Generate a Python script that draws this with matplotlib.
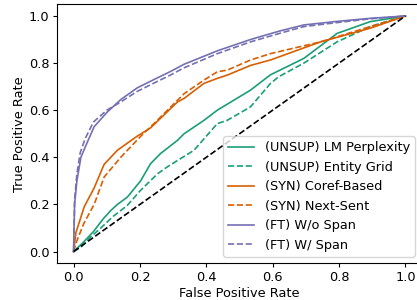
import matplotlib
matplotlib.use("Agg")
import matplotlib.pyplot as plt

# ROC points
lm_fpr = [0, 0.03, 0.06, 0.09, 0.112, 0.132, 0.162, 0.202, 0.232, 0.262, 0.313, 0.333,
          0.393, 0.433, 0.533, 0.593, 0.694, 0.794, 0.894, 1.0]
lm_tpr = [0, 0.04, 0.085, 0.14, 0.174, 0.20, 0.231, 0.30, 0.373, 0.416, 0.472, 0.50,
          0.557, 0.60, 0.685, 0.75, 0.82, 0.926, 0.976, 1.0]

grid_fpr = [0, 0.022, 0.05, 0.082, 0.12, 0.162, 0.202, 0.253, 0.283, 0.363, 0.433, 0.463,
            0.533, 0.593, 0.618, 0.694, 0.794, 0.894, 1.0]
grid_tpr = [0, 0.018, 0.06, 0.10, 0.15, 0.196, 0.26, 0.33, 0.36, 0.43, 0.543, 0.557,
            0.614, 0.713, 0.742, 0.80, 0.89, 0.955, 1.0]

coref_fpr = [0, 0.007, 0.032, 0.062, 0.092, 0.132, 0.192, 0.232, 0.313, 0.333, 0.393,
             0.433, 0.463, 0.533, 0.593, 0.744, 0.894, 1.0]
coref_tpr = [0, 0.08, 0.19, 0.27, 0.37, 0.43, 0.49, 0.525, 0.635, 0.65, 0.714,
             0.735, 0.749, 0.79, 0.813, 0.89, 0.948, 1.0]

next_fpr = [0, 0.007, 0.031, 0.062, 0.092, 0.142, 0.2, 0.242, 0.283, 0.333, 0.393,
            0.433, 0.463, 0.533, 0.593, 0.744, 0.894, 1.0]
next_tpr = [0, 0.035, 0.12, 0.20, 0.316, 0.40, 0.486, 0.543, 0.60, 0.67, 0.728,
            0.763, 0.77, 0.813, 0.84, 0.89, 0.955, 1.0]

wo_fpr = [0, 0.003, 0.01, 0.022, 0.037, 0.062, 0.10, 0.142, 0.192, 0.242, 0.293, 0.333,
          0.433, 0.533, 0.618, 0.694, 0.794, 0.894, 1.0]
wo_tpr = [0, 0.20, 0.30, 0.40, 0.45, 0.53, 0.59, 0.645, 0.695, 0.73, 0.765, 0.795,
          0.852, 0.90, 0.935, 0.962, 0.977, 0.99, 1.0]

w_fpr = [0, 0.003, 0.01, 0.02, 0.035, 0.06, 0.10, 0.142, 0.192, 0.242, 0.293, 0.333,
         0.433, 0.533, 0.618, 0.694, 0.794, 0.894, 1.0]
w_tpr = [0, 0.22, 0.33, 0.42, 0.48, 0.55, 0.60, 0.635, 0.68, 0.715, 0.75, 0.78,
         0.84, 0.89, 0.925, 0.955, 0.972, 0.988, 1.0]

teal, orange, purple = '#1b9e77', '#d95f02', '#7570b3'

plt.rcParams['font.size'] = 9.3

fig = plt.figure(figsize=(4.17, 3.0), dpi=100)
ax = fig.add_axes([57 / 417, 0.1223, 365 / 417, 0.8637])

ax.plot(lm_fpr, lm_tpr, color=teal, lw=1.2, label='(UNSUP) LM Perplexity')
ax.plot(grid_fpr, grid_tpr, color=teal, lw=1.2, ls='--', label='(UNSUP) Entity Grid')
ax.plot(coref_fpr, coref_tpr, color=orange, lw=1.2, label='(SYN) Coref-Based')
ax.plot(next_fpr, next_tpr, color=orange, lw=1.2, ls='--', label='(SYN) Next-Sent')
ax.plot(wo_fpr, wo_tpr, color=purple, lw=1.2, label='(FT) W/o Span')
ax.plot(w_fpr, w_tpr, color=purple, lw=1.2, ls='--', label='(FT) W/ Span')
ax.plot([0, 1], [0, 1], 'k--', lw=1.2)

ax.set_xlim(-0.05, 1.05)
ax.set_ylim(-0.05, 1.05)
ax.tick_params(length=3, pad=2.5)
ax.set_xlabel('False Positive Rate', labelpad=2)
ax.set_ylabel('True Positive Rate', labelpad=2)
ax.legend(loc='lower right', bbox_to_anchor=(415 / 417, 43.3 / 300),
          bbox_transform=fig.transFigure, borderaxespad=0)

fig.savefig('out.png', dpi=100)
